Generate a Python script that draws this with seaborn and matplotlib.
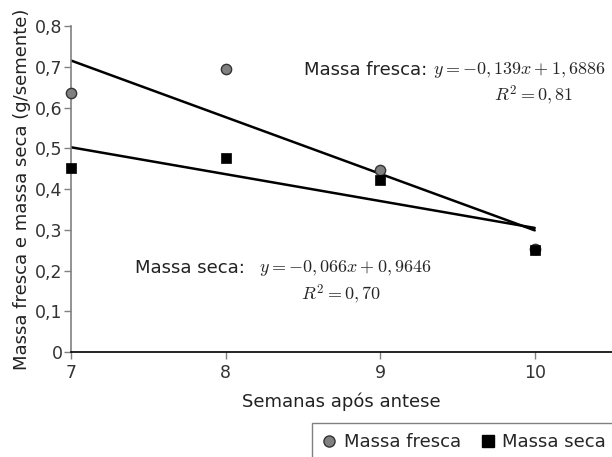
import numpy as np
import pandas as pd
import seaborn as sns
import matplotlib.pyplot as plt
from matplotlib.lines import Line2D

## data
semanas = [7, 8, 9, 10]
massa_fresca = [0.636, 0.694, 0.447, 0.253]
massa_seca = [0.452, 0.476, 0.422, 0.250]

# regression coefficients printed on the chart
coef_fresca = (-0.139, 1.6886)
coef_seca = (-0.066, 0.9646)
x_fit = [7, 10]

sns.set_style("ticks")
plt.rcParams['font.family'] = ['DejaVu Sans']
plt.rcParams['mathtext.fontset'] = 'cm'

fig = plt.figure(figsize=(6.12, 4.57), dpi=100)
ax = fig.add_axes([0.116, 0.2298, 0.884, 0.713])

df = pd.DataFrame({"x": semanas, "fresca": massa_fresca, "seca": massa_seca})
fit = pd.DataFrame({"x": x_fit,
                    "fresca": [coef_fresca[0] * v + coef_fresca[1] for v in x_fit],
                    "seca": [coef_seca[0] * v + coef_seca[1] for v in x_fit]})

sns.lineplot(data=fit, x="x", y="fresca", color="black", lw=1.8, ax=ax)
sns.lineplot(data=fit, x="x", y="seca", color="black", lw=1.8, ax=ax)
sns.scatterplot(data=df, x="x", y="fresca", marker="o", s=55, color="#808080",
                edgecolor="#333333", linewidth=1, ax=ax, zorder=5, clip_on=False)
sns.scatterplot(data=df, x="x", y="seca", marker="s", s=55, color="black",
                edgecolor="black", linewidth=0.5, ax=ax, zorder=5, clip_on=False)

ax.set_xlim(7, 10.5)
ax.set_ylim(0, 0.8)
ax.set_xticks([7, 8, 9, 10])
ax.set_yticks(np.arange(0, 0.81, 0.1))
ax.set_yticklabels(["0"] + [f"0,{i}" for i in range(1, 9)])
ax.tick_params(axis="both", colors="#808080", labelcolor="#333333", labelsize=12.5,
               length=5, width=1)
ax.tick_params(axis="y", pad=1)
sns.despine(ax=ax)
ax.spines["left"].set_color("#808080")
ax.spines["bottom"].set_color("black")
ax.spines["left"].set_linewidth(1.2)
ax.spines["bottom"].set_linewidth(1.2)

ax.set_xlabel("Semanas após antese", fontsize=13, color="#222222", labelpad=8)
ax.set_ylabel("Massa fresca e massa seca (g/semente)", fontsize=13, color="#222222", labelpad=3)

# equations
ax.text(8.506, 0.692, "Massa fresca:", fontsize=13, color="#222222", va="center")
ax.text(9.344, 0.692, r"$y = -0,139x + 1,6886$", fontsize=13, va="center")
ax.text(9.99, 0.631, r"$R^2 = 0,81$", fontsize=13, va="center", ha="center")
ax.text(7.416, 0.206, "Massa seca:", fontsize=13, color="#222222", va="center")
ax.text(8.214, 0.206, r"$y = -0,066x + 0,9646$", fontsize=13, va="center")
ax.text(8.75, 0.142, r"$R^2 = 0,70$", fontsize=13, va="center", ha="center")

# legend
handles = [Line2D([], [], ls="", marker="o", ms=8, mfc="#808080", mec="#333333"),
           Line2D([], [], ls="", marker="s", ms=8, mfc="black", mec="black")]
fig.legend(handles, ["Massa fresca", "Massa seca"], loc="upper left",
           bbox_to_anchor=(312 / 612, 1 - 423 / 457), ncol=2, fontsize=13,
           frameon=True, fancybox=False, edgecolor="#808080", framealpha=1,
           handletextpad=0.4, columnspacing=1.1, borderaxespad=0,
           handlelength=0.8, borderpad=0.55)

plt.savefig("out.png", dpi=100)
